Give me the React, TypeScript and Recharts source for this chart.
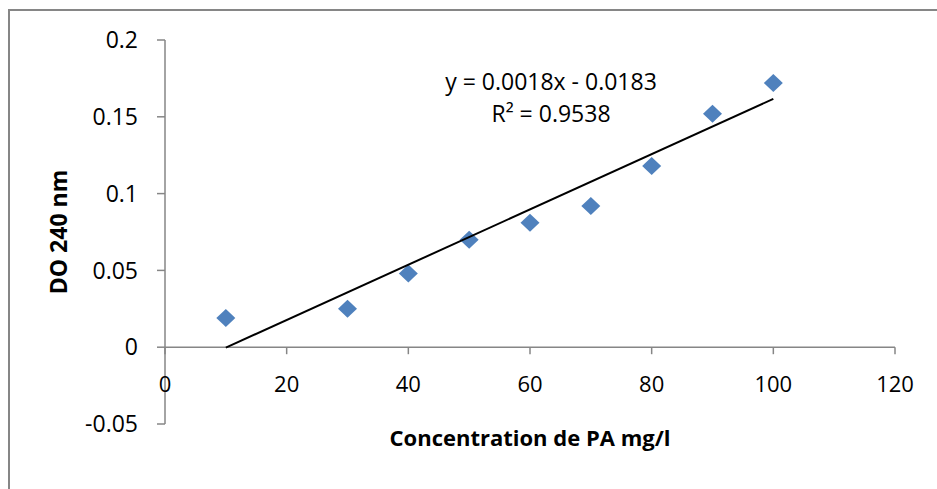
import React from 'react'
import {
  ScatterChart,
  Scatter,
  XAxis,
  YAxis,
  ReferenceLine
} from 'recharts'

// concentration (mg/l) and optical density
const concentrations = [10, 30, 40, 50, 60, 70, 80, 90, 100]
const absorbances = [0.019, 0.025, 0.048, 0.070, 0.081, 0.092, 0.118, 0.152, 0.172]

// linear trendline endpoints (y = 0.0018x - 0.0183)
const trendX = [10, 100]
const trendY = [-0.0003, 0.1617]

const xTicks = [0, 20, 40, 60, 80, 100, 120]
const yTicks = [-0.05, 0, 0.05, 0.1, 0.15, 0.2]

const equationText = 'y = 0.0018x - 0.0183'
const r2Text = 'R² = 0.9538'

const points = concentrations.map((x, i) => ({ x, y: absorbances[i] }))
const trend = trendX.map((x, i) => ({ x, y: trendY[i] }))
const xTickPoints = xTicks.map((x) => ({ x, y: 0 }))

const FONT = '"Open Sans", sans-serif'
const AXIS = '#868686'
const BLUE = '#4F81BD'

const Diamond = (props: any) => {
  const { cx, cy } = props
  if (cx == null || cy == null) return <g />
  const w = 9.5
  const h = 9
  return (
    <polygon
      points={`${cx},${cy - h} ${cx + w},${cy} ${cx},${cy + h} ${cx - w},${cy}`}
      fill={BLUE}
    />
  )
}

// x axis crosses at y = 0, so its ticks and labels are drawn there
const XTick = (props: any) => {
  const { cx, cy, payload } = props
  if (cx == null || cy == null) return <g />
  return (
    <g>
      <line x1={cx} y1={cy} x2={cx} y2={cy + 7} stroke={AXIS} strokeWidth={1.5} />
      <text
        x={cx}
        y={cy + 36}
        textAnchor="middle"
        dominantBaseline="central"
        fontFamily={FONT}
        fontSize={22}
        fill="#000"
      >
        {payload.x}
      </text>
    </g>
  )
}

const NoShape = () => <g />

const YTitle = (props: any) => {
  const vb = props.viewBox || {}
  const x = 58
  const y = vb.y + vb.height / 2
  return (
    <text
      x={x}
      y={y}
      transform={`rotate(-90, ${x}, ${y})`}
      textAnchor="middle"
      dominantBaseline="central"
      fontFamily={FONT}
      fontWeight="bold"
      fontSize={23}
      fill="#000"
    >
      DO 240 nm
    </text>
  )
}

export default function App() {
  return (
    <div
      style={{
        position: 'absolute',
        left: 0,
        top: 0,
        width: 937,
        height: 489,
        background: '#fff',
        overflow: 'hidden'
      }}
    >
      <div
        style={{
          position: 'absolute',
          left: 8,
          top: 9,
          width: 940,
          height: 500,
          borderTop: `2px solid ${AXIS}`,
          borderLeft: `2px solid ${AXIS}`
        }}
      />
      <div style={{ position: 'absolute', left: 0, top: 0 }}>
        <ScatterChart
          width={937}
          height={489}
          margin={{ top: 40, right: 42, bottom: 0, left: 0 }}
        >
          <XAxis
            type="number"
            dataKey="x"
            domain={[0, 120]}
            ticks={xTicks}
            axisLine={false}
            tickLine={false}
            tick={false}
            height={65}
            label={{
              value: 'Concentration de PA mg/l',
              position: 'insideTop',
              offset: 6,
              fontFamily: FONT,
              fontWeight: 'bold',
              fontSize: 22,
              fill: '#000'
            }}
          />
          <YAxis
            type="number"
            dataKey="y"
            domain={[-0.05, 0.2]}
            ticks={yTicks}
            width={165}
            axisLine={{ stroke: AXIS, strokeWidth: 1.5 }}
            tickLine={{ stroke: AXIS, strokeWidth: 1.5 }}
            tickSize={8}
            tickMargin={19}
            tick={{ fontFamily: FONT, fontSize: 23, fill: '#000' }}
            label={{ content: <YTitle /> }}
          />
          <ReferenceLine y={0} stroke={AXIS} strokeWidth={1.5} ifOverflow="extendDomain" />
          <Scatter
            data={xTickPoints}
            shape={<XTick />}
            isAnimationActive={false}
          />
          <Scatter
            data={points}
            shape={<Diamond />}
            isAnimationActive={false}
          />
          <Scatter
            data={trend}
            line={{ stroke: '#000', strokeWidth: 2 }}
            shape={<NoShape />}
            isAnimationActive={false}
          />
        </ScatterChart>
      </div>
      <div
        style={{
          position: 'absolute',
          left: 431,
          top: 65,
          width: 240,
          textAlign: 'center',
          fontFamily: FONT,
          fontSize: 23,
          lineHeight: '32px',
          color: '#000'
        }}
      >
        <div>{equationText}</div>
        <div>{r2Text}</div>
      </div>
    </div>
  )
}
